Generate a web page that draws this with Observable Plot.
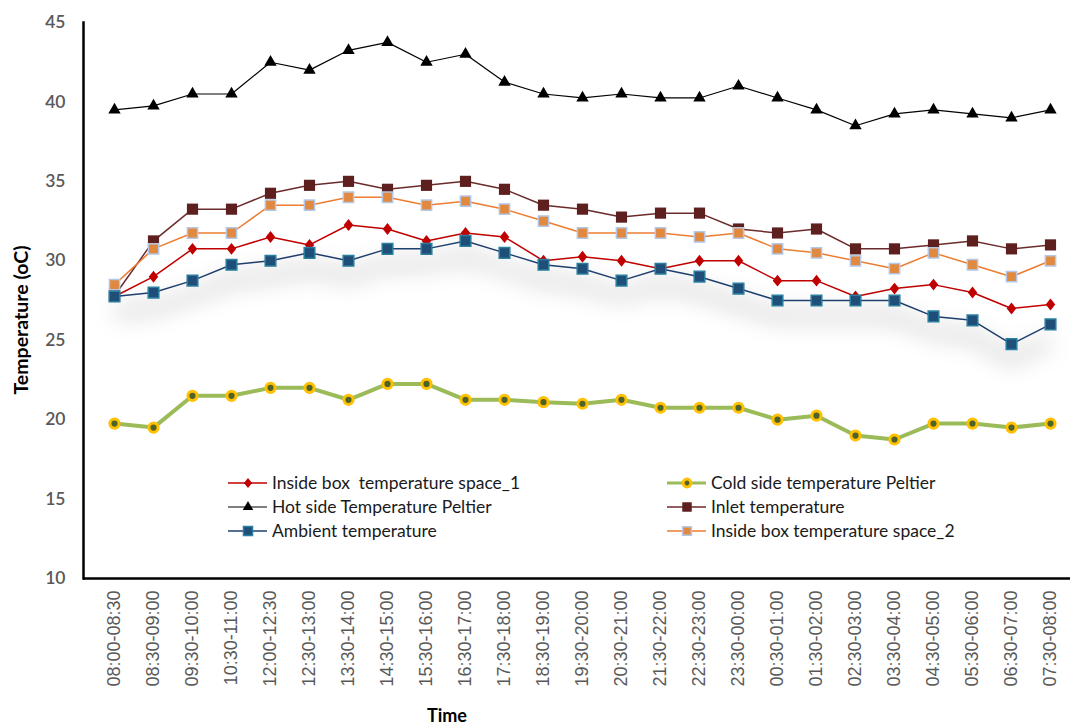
<!DOCTYPE html>
<html><head><meta charset="utf-8">
<script src="https://cdn.jsdelivr.net/npm/d3@7"></script>
<script src="https://cdn.jsdelivr.net/npm/@observablehq/plot@0.6"></script>
<style>body{margin:0;background:#fff} #chart svg{display:block;overflow:visible}</style>
</head><body><div id="chart"></div>
<script>
const times = ["08:00-08:30","08:30-09:00","09:30-10:00","10:30-11:00","12:00-12:30","12:30-13:00","13:30-14:00","14:30-15:00","15:30-16:00","16:30-17:00","17:30-18:00","18:30-19:00","19:30-20:00","20:30-21:00","21:30-22:00","22:30-23:00","23:30-00:00","00:30-01:00","01:30-02:00","02:30-03:00","03:30-04:00","04:30-05:00","05:30-06:00","06:30-07:00","07:30-08:00"];
const insideBox1 = [27.75,29.0,30.75,30.75,31.5,31.0,32.25,32.0,31.25,31.75,31.5,30.0,30.25,30.0,29.5,30.0,30.0,28.75,28.75,27.75,28.25,28.5,28.0,27.0,27.25];
const coldSide = [19.75,19.5,21.5,21.5,22.0,22.0,21.25,22.25,22.25,21.25,21.25,21.1,21.0,21.25,20.75,20.75,20.75,20.0,20.25,19.0,18.75,19.75,19.75,19.5,19.75];
const hotSide = [39.5,39.75,40.5,40.5,42.5,42.0,43.25,43.75,42.5,43.0,41.25,40.5,40.25,40.5,40.25,40.25,41.0,40.25,39.5,38.5,39.25,39.5,39.25,39.0,39.5];
const inlet = [27.8,31.25,33.25,33.25,34.25,34.75,35.0,34.5,34.75,35.0,34.5,33.5,33.25,32.75,33.0,33.0,32.0,31.75,32.0,30.75,30.75,31.0,31.25,30.75,31.0];
const ambient = [27.75,28.0,28.75,29.75,30.0,30.5,30.0,30.75,30.75,31.25,30.5,29.75,29.5,28.75,29.5,29.0,28.25,27.5,27.5,27.5,27.5,26.5,26.25,24.75,26.0];
const insideBox2 = [28.5,30.75,31.75,31.75,33.5,33.5,34.0,34.0,33.5,33.75,33.25,32.5,31.75,31.75,31.75,31.5,31.75,30.75,30.5,30.0,29.5,30.5,29.75,29.0,30.0];
const seriesNames = ["Inside box  temperature space_1","Cold side temperature Peltier","Hot side Temperature Peltier","Inlet temperature","Ambient temperature","Inside box temperature space_2"];
const yTicks = [10,15,20,25,30,35,40,45];
const xTitle = "Time";
const yTitle = "Temperature (oC)";

const rows = times.map((t, i) => ({time: t, s1: insideBox1[i], cold: coldSide[i], hot: hotSide[i], inlet: inlet[i], amb: ambient[i], s2: insideBox2[i]}));

const diamond = {draw(ctx, size) { const h = Math.sqrt(size) * 0.7, w = h * 0.8; ctx.moveTo(0, -h); ctx.lineTo(w, 0); ctx.lineTo(0, h); ctx.lineTo(-w, 0); ctx.closePath(); }};

const styles = [
  {key: "s1", name: seriesNames[0], line: "#c00000", lw: 1.5, symbol: diamond, r: 4.8, fill: "#c00000", stroke: "none", sw: 0},
  {key: "cold", name: seriesNames[1], line: "#9bbb59", lw: 4, symbol: "circle", r: 4.6, fill: "#4f6228", stroke: "#ffc000", sw: 3},
  {key: "hot", name: seriesNames[2], line: "#000000", lw: 1.2, symbol: "triangle", r: 4.6, fill: "#000000", stroke: "none", sw: 0},
  {key: "inlet", name: seriesNames[3], line: "#6b2b2b", lw: 1.5, symbol: "square", r: 6.3, fill: "#5e1f1f", stroke: "none", sw: 0},
  {key: "amb", name: seriesNames[4], line: "#1f3f6e", lw: 1.5, symbol: "square", r: 6, fill: "#1f4e79", stroke: "#2a7f9e", sw: 1.5},
  {key: "s2", name: seriesNames[5], line: "#ed7d31", lw: 1.5, symbol: "square", r: 5.8, fill: "#e0893f", stroke: "#b4c7e7", sw: 1.5}
];
const drawOrder = ["s1", "cold", "hot", "inlet", "s2", "amb"];

const marks = [];
for (const k of drawOrder) {
  const s = styles.find(d => d.key === k);
  marks.push(Plot.line(rows, {x: "time", y: k, stroke: s.line, strokeWidth: s.lw, ariaDescription: "line-" + k}));
  marks.push(Plot.dot(rows, {x: "time", y: k, symbol: s.symbol, r: s.r, fill: s.fill, stroke: s.stroke, strokeWidth: s.sw}));
}

const chart = Plot.plot({
  width: 1070, height: 726,
  marginLeft: 83, marginRight: 0, marginTop: 22, marginBottom: 148,
  x: {type: "point", domain: times, range: [103, 1060], padding: 0},
  y: {domain: [10, 45]},
  style: {background: "#fff", overflow: "visible"},
  marks: [
    Plot.axisY({ticks: yTicks, tickSize: 0, tickPadding: 18, fontSize: 17.5, fontFamily: "Lato, sans-serif", fontWeight: 600, color: "#595959", label: null}),
    Plot.axisX({tickRotate: -90, tickSize: 0, tickPadding: 12, fontSize: 18, fontFamily: "Liberation Sans, Arial, sans-serif", color: "#595959", label: null}),
    ...marks,
    Plot.frame({anchor: "left", stroke: "#000", strokeWidth: 2.5}),
    Plot.ruleY([10], {stroke: "#000", strokeWidth: 2.5})
  ]
});
document.getElementById("chart").append(chart);

const svg = d3.select(chart);
const defs = svg.insert("defs", ":first-child");
const f = defs.append("filter").attr("id", "shadow").attr("filterUnits", "userSpaceOnUse").attr("x", 0).attr("y", 0).attr("width", 1070).attr("height", 726);
f.append("feGaussianBlur").attr("in", "SourceAlpha").attr("stdDeviation", 12).attr("result", "b");
f.append("feOffset").attr("in", "b").attr("dy", 16).attr("result", "o");
f.append("feComponentTransfer").attr("in", "o").attr("result", "c").append("feFuncA").attr("type", "linear").attr("slope", 1.3);
const fm = f.append("feMerge");
fm.append("feMergeNode").attr("in", "c");
fm.append("feMergeNode").attr("in", "SourceGraphic");
svg.selectAll('[aria-description="line-amb"]').attr("filter", "url(#shadow)");

// titles
svg.append("text").attr("transform", "translate(20,320) rotate(-90)").attr("text-anchor", "middle").attr("dominant-baseline", "central")
  .attr("font-family", "Lato, sans-serif").attr("font-weight", "bold").attr("font-size", 19.5).attr("fill", "#000").text(yTitle);
svg.append("text").attr("x", 447).attr("y", 715).attr("text-anchor", "middle").attr("dominant-baseline", "central")
  .attr("font-family", "Lato, sans-serif").attr("font-weight", "bold").attr("font-size", 18).attr("fill", "#000").text(xTitle);

// legend
const legendOrder = ["s1", "cold", "hot", "inlet", "amb", "s2"];
const lg = svg.append("g").attr("font-family", "Lato, sans-serif").attr("font-size", 17.5).attr("fill", "#1a1a1a").attr("text-anchor", "start");
legendOrder.forEach((k, i) => {
  const s = styles.find(d => d.key === k);
  const col = i % 2, row = Math.floor(i / 2);
  const x0 = col === 0 ? 228 : 667, y0 = 483 + row * 24;
  const g = lg.append("g").attr("transform", `translate(${x0},${y0})`);
  g.append("line").attr("x1", 0).attr("x2", 39).attr("stroke", s.line).attr("stroke-width", Math.min(s.lw, 3));
  const sym = typeof s.symbol === "string" ? {circle: d3.symbolCircle, triangle: d3.symbolTriangle, square: d3.symbolSquare}[s.symbol] : s.symbol;
  const rr = s.r * 0.85;
  g.append("path").attr("transform", "translate(20,0)").attr("d", d3.symbol(sym, Math.PI * rr * rr)())
    .attr("fill", s.fill).attr("stroke", s.stroke).attr("stroke-width", s.sw);
  g.append("text").attr("x", 44).attr("dy", "0.35em").attr("text-anchor", "start").style("white-space", "pre").text(s.name);
});
</script></body></html>
